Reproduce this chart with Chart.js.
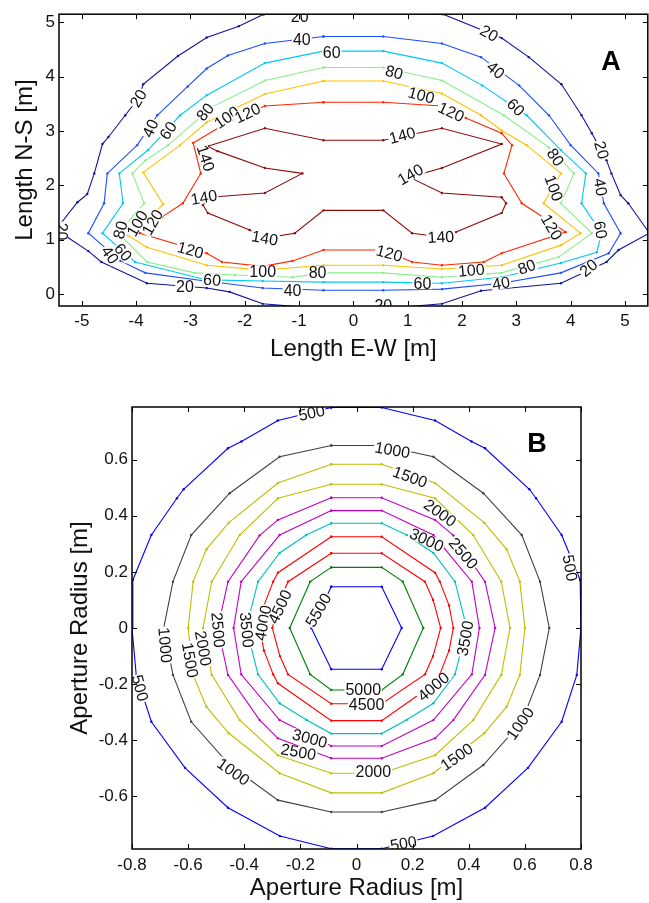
<!DOCTYPE html>
<html>
<head>
<meta charset="utf-8">
<script src="https://cdn.jsdelivr.net/npm/chart.js@4.4.1/dist/chart.umd.min.js"></script>
<style>
  html, body { margin: 0; padding: 0; background: #fff; }
  #wrap { position: relative; width: 649px; height: 903px; }
  #chartA { position: absolute; left: 0; top: 0; }
  #chartB { position: absolute; left: 0; top: 370px; }
</style>
</head>
<body>
<div id="wrap">
  <canvas id="chartA" width="649" height="370"></canvas>
  <canvas id="chartB" width="649" height="533"></canvas>
</div>
<script>
// ---------- Panel A : field contours (E-W vs N-S, metres) ----------
const levelsA = [20, 40, 60, 80, 100, 120, 140];
const xTicksA = [-5, -4, -3, -2, -1, 0, 1, 2, 3, 4, 5];
const yTicksA = [0, 1, 2, 3, 4, 5];

const lineA20 = [[-1.65,5.15],[-0.55,5.17],[0.55,5.17],[1.65,5.15],[2.73,4.71],[3.23,4.36],[3.83,3.86],[4.2,3.29],[4.39,2.96],[4.66,2.46],[4.75,2.22],[4.92,1.82],[5.06,1.67],[5.45,1.12],
  [4.88,0.81],[4.66,0.59],[3.82,0.2],[2.35,0.06],[1.63,-0.18],[0.55,-0.27],[-0.55,-0.27],[-1.67,-0.18],[-2.28,0.04],[-2.7,0.11],[-3.8,0.2],[-4.64,0.59],[-4.88,0.79],[-5.27,1.05],[-5.45,1.22],
  [-5.08,1.69],[-4.9,1.84],[-4.77,2.22],[-4.62,2.76],[-4.51,2.89],[-4.2,3.29],[-3.96,3.6],[-3.87,3.86],[-3.23,4.38],[-2.7,4.72],[-2.11,4.93]];
const lineA40 = [[-0.55,4.74],[0.55,4.74],[1.63,4.61],[2.35,4.36],[3.05,3.84],[3.6,3.29],[4.0,2.74],[4.51,2.22],[4.61,1.67],[4.92,1.12],[4.7,0.75],[3.82,0.39],[2.72,0.2],[1.63,0.09],[0.55,0.07],
  [-0.55,0.07],[-1.67,0.11],[-2.73,0.24],[-3.83,0.39],[-4.29,0.61],[-4.88,1.12],[-4.59,1.67],[-4.53,2.22],[-3.98,2.74],[-3.61,3.29],[-3.05,3.82],[-2.7,4.15],[-2.31,4.39],[-1.63,4.61]];
const lineA60 = [[-0.55,4.47],[0.55,4.47],[1.63,4.25],[2.37,3.84],[3.19,3.29],[3.82,2.65],[4.28,2.22],[4.2,1.67],[4.57,1.12],[4.48,0.77],[3.82,0.57],[2.72,0.31],[1.63,0.2],[0.55,0.22],
  [-0.55,0.22],[-1.67,0.24],[-2.7,0.26],[-4.02,0.59],[-4.62,1.12],[-4.24,1.67],[-4.31,2.22],[-3.78,2.65],[-3.19,3.29],[-2.7,3.66],[-1.63,4.25]];
const lineA80 = [[-0.55,4.17],[0.55,4.17],[1.63,3.93],[2.77,3.29],[3.6,2.7],[4.06,2.22],[3.82,1.67],[4.39,1.12],[3.78,0.68],[2.72,0.39],[1.63,0.31],[0.55,0.39],[-0.55,0.39],[-1.12,0.31],
  [-2.18,0.35],[-2.92,0.39],[-3.8,0.59],[-4.33,1.12],[-3.85,1.67],[-4.07,2.22],[-3.83,2.46],[-3.41,2.74],[-2.61,3.44],[-1.63,3.93]];
const lineA100 = [[-0.55,3.92],[0.55,3.92],[1.63,3.69],[2.35,3.29],[2.73,3.01],[3.19,2.74],[3.82,2.22],[3.5,1.67],[4.18,1.12],[3.82,0.9],[2.73,0.53],[1.63,0.46],[0.55,0.53],[-0.55,0.53],
  [-1.67,0.44],[-2.7,0.53],[-3.8,0.86],[-4.15,1.08],[-3.5,1.65],[-3.87,2.24],[-3.19,2.74],[-2.7,3.16],[-1.63,3.68]];
const lineA120 = [[-0.55,3.53],[0.55,3.53],[1.63,3.46],[2.07,3.24],[2.73,2.96],[2.92,2.74],[2.77,2.22],[3.1,1.67],[3.91,1.14],[2.73,0.75],[2.4,0.59],[1.63,0.53],[1.08,0.59],[0.55,0.81],
  [-0.55,0.81],[-1.12,0.61],[-1.67,0.51],[-2.42,0.59],[-2.7,0.75],[-3.93,1.12],[-3.52,1.42],[-3.14,1.67],[-2.81,2.22],[-2.95,2.78],[-2.31,3.16],[-1.63,3.46]];
const lineA140 = [[-2.68,2.72],[-1.63,3.05],[-0.55,2.83],[0.55,2.83],[1.63,3.05],[2.73,2.76],[1.63,2.32],[1.03,2.15],[1.63,1.86],[2.73,1.78],[2.81,1.67],[2.73,1.49],[1.89,1.14],[1.61,1.05],
  [1.08,1.12],[0.55,1.54],[-0.55,1.54],[-1.08,1.12],[-1.63,1.03],[-1.91,1.18],[-2.68,1.49],[-2.77,1.64],[-2.64,1.78],[-1.63,1.86],[-0.94,2.22],[-1.63,2.32],[-2.5,2.63]];

// label spots on each level: [x, y, angle]
const labA20 = [[-3.96,3.6,-60],[2.5,4.8,30],[4.57,2.65,75],[4.33,0.48,-40],[-3.1,0.13,0],[-0.99,5.1,0],[0.55,-0.22,0],[-5.37,1.15,90]];
const labA40 = [[-0.95,4.69,0],[-3.74,3.05,-65],[2.62,4.12,40],[4.55,1.97,80],[2.72,0.2,-10],[-1.12,0.07,0],[-4.48,0.72,55]];
const labA60 = [[-0.4,4.45,0],[-3.41,3.01,-55],[2.99,3.44,45],[4.55,1.18,80],[1.27,0.2,0],[-2.6,0.26,5],[-4.24,0.77,50]];
const labA80 = [[-2.73,3.35,-50],[0.75,4.08,15],[3.72,2.52,55],[3.19,0.5,-20],[-0.66,0.39,0],[-4.29,1.18,-75]];
const labA100 = [[-2.33,3.25,-35],[1.25,3.66,15],[3.69,1.95,70],[2.17,0.44,-5],[-1.67,0.42,0],[-3.98,1.3,-60]];
const labA120 = [[-1.95,3.33,-25],[1.8,3.35,25],[3.65,1.23,60],[0.66,0.75,15],[-3.0,0.81,15],[-3.7,1.32,-60]];
const labA140 = [[-2.72,2.5,72],[0.9,2.92,-15],[1.05,2.2,-30],[-2.75,1.78,-10],[-1.63,1.03,10],[1.61,1.05,-3]];

// ---------- Panel B : aperture contours (metres) ----------
const levelsB = [500, 1000, 1500, 2000, 2500, 3000, 3500, 4000, 4500, 5000, 5500];
const xTicksB = [-0.8, -0.6, -0.4, -0.2, 0, 0.2, 0.4, 0.6, 0.8];
const yTicksB = [-0.6, -0.4, -0.2, 0, 0.2, 0.4, 0.6];

const lineB500 = [[-0.09,0.785],[0.09,0.785],[0.28,0.739],[0.41,0.664],[0.458,0.64],[0.616,0.494],[0.64,0.462],[0.731,0.331],[0.797,0.171],[0.8,0],[0.785,-0.167],[0.731,-0.334],[0.611,-0.498],
  [0.458,-0.64],[0.273,-0.741],[0.09,-0.786],[-0.09,-0.786],[-0.273,-0.741],[-0.458,-0.64],[-0.611,-0.498],[-0.731,-0.334],[-0.785,-0.167],[-0.8,0],[-0.797,0.171],[-0.731,0.331],
  [-0.64,0.462],[-0.616,0.494],[-0.458,0.64],[-0.41,0.664],[-0.28,0.739]];
const lineB1000 = [[-0.09,0.65],[0.09,0.65],[0.274,0.61],[0.452,0.48],[0.589,0.331],[0.654,0.165],[0.687,0],[0.654,-0.167],[0.589,-0.334],[0.452,-0.488],[0.28,-0.613],[0.09,-0.655],
  [-0.09,-0.655],[-0.28,-0.613],[-0.452,-0.488],[-0.589,-0.334],[-0.654,-0.167],[-0.687,0],[-0.654,0.165],[-0.589,0.331],[-0.452,0.48],[-0.274,0.61]];
const lineB1500 = [[-0.09,0.583],[0.09,0.583],[0.28,0.516],[0.455,0.375],[0.535,0.28],[0.582,0.165],[0.6,0],[0.582,-0.167],[0.535,-0.28],[0.455,-0.375],[0.274,-0.517],[0.09,-0.587],
  [-0.09,-0.587],[-0.274,-0.517],[-0.455,-0.375],[-0.535,-0.28],[-0.582,-0.167],[-0.6,0],[-0.582,0.165],[-0.535,0.28],[-0.455,0.375],[-0.28,0.516]];
const lineB2000 = [[-0.09,0.512],[0.09,0.512],[0.28,0.462],[0.416,0.331],[0.516,0.165],[0.547,0],[0.516,-0.167],[0.416,-0.328],[0.28,-0.453],[0.09,-0.517],
  [-0.09,-0.517],[-0.28,-0.453],[-0.416,-0.328],[-0.516,-0.167],[-0.547,0],[-0.516,0.165],[-0.416,0.331],[-0.28,0.462]];
const lineB2500 = [[-0.09,0.464],[0.09,0.464],[0.28,0.385],[0.345,0.33],[0.458,0.165],[0.494,0],[0.458,-0.167],[0.345,-0.328],[0.28,-0.393],[0.09,-0.464],
  [-0.09,-0.464],[-0.28,-0.393],[-0.345,-0.328],[-0.458,-0.167],[-0.494,0],[-0.458,0.165],[-0.345,0.33],[-0.28,0.385]];
const lineB3000 = [[-0.09,0.418],[0.09,0.418],[0.274,0.331],[0.411,0.165],[0.438,0],[0.411,-0.165],[0.274,-0.328],[0.09,-0.42],
  [-0.09,-0.42],[-0.274,-0.328],[-0.411,-0.165],[-0.438,0],[-0.411,0.165],[-0.274,0.331]];
const lineB3500 = [[-0.09,0.373],[0.09,0.373],[0.179,0.331],[0.274,0.267],[0.351,0.165],[0.393,0],[0.351,-0.165],[0.274,-0.268],[0.179,-0.327],[0.09,-0.376],
  [-0.09,-0.376],[-0.179,-0.327],[-0.274,-0.268],[-0.351,-0.165],[-0.393,0],[-0.351,0.165],[-0.274,0.267],[-0.179,0.331]];
const lineB4000 = [[-0.09,0.325],[0.09,0.325],[0.28,0.197],[0.297,0.165],[0.33,0.08],[0.345,0],[0.33,-0.08],[0.297,-0.165],[0.28,-0.197],[0.09,-0.33],
  [-0.09,-0.33],[-0.28,-0.197],[-0.297,-0.165],[-0.33,-0.08],[-0.345,0],[-0.33,0.08],[-0.297,0.165],[-0.28,0.197]];
const lineB4500 = [[-0.09,0.266],[0.09,0.266],[0.244,0.165],[0.273,0.1],[0.3,0],[0.273,-0.1],[0.244,-0.165],[0.09,-0.27],
  [-0.09,-0.27],[-0.244,-0.165],[-0.273,-0.1],[-0.3,0],[-0.273,0.1],[-0.244,0.165]];
const lineB5000 = [[-0.09,0.216],[0.09,0.216],[0.165,0.165],[0.238,0],[0.165,-0.165],[0.09,-0.221],[-0.09,-0.221],[-0.165,-0.165],[-0.238,0],[-0.165,0.165]];
const lineB5500 = [[-0.09,0.147],[0.09,0.147],[0.161,0],[0.09,-0.147],[-0.09,-0.147],[-0.161,0]];

const labB500 = [[-0.16,0.766,-12],[0.761,0.214,80],[-0.771,-0.214,75],[0.167,-0.767,-10]];
const labB1000 = [[0.128,0.634,10],[-0.682,-0.061,85],[-0.439,-0.512,35],[0.583,-0.34,-55]];
const labB1500 = [[0.191,0.538,20],[-0.593,-0.114,80],[0.357,-0.459,-35]];
const labB2000 = [[0.298,0.41,35],[-0.546,-0.072,80],[0.06,-0.512,0]];
const labB2500 = [[0.381,0.266,50],[-0.493,-0.007,85],[-0.207,-0.441,10]];
const labB3000 = [[0.25,0.314,25],[-0.166,-0.393,15]];
const labB3500 = [[-0.391,-0.007,85],[0.387,-0.037,-80]];
const labB4000 = [[-0.333,0.018,-80],[0.274,-0.209,-40]];
const labB4500 = [[-0.273,0.076,-65],[0.036,-0.274,0]];
const labB5000 = [[0.024,-0.221,0]];
const labB5500 = [[-0.136,0.064,-60]];

// ---------- helpers ----------
const FONT = '"Liberation Sans", Arial, sans-serif';
Chart.defaults.font.family = FONT;

function toPoints(line) {
  const pts = line.map(p => ({ x: p[0], y: p[1] }));
  pts.push({ x: line[0][0], y: line[0][1] }); // close the loop
  return pts;
}

function contourSets(levels, lines, colors) {
  return levels.map((lv, i) => ({
    label: String(lv),
    data: toPoints(lines[i]),
    showLine: true,
    borderColor: colors[i],
    backgroundColor: colors[i],
    borderWidth: 1.1,
    pointRadius: 1.2,
    pointBorderWidth: 0,
    pointHoverRadius: 0,
    tension: 0,
    fill: false
  }));
}

// inline labels with a white gap under them, clipped to the plot box
const contourLabels = {
  id: 'contourLabels',
  afterDatasetsDraw(chart, args, opts) {
    const { ctx, chartArea: a, scales: { x, y } } = chart;
    ctx.save();
    ctx.beginPath();
    ctx.rect(a.left, a.top, a.right - a.left, a.bottom - a.top);
    ctx.clip();
    ctx.font = '16px ' + FONT;
    ctx.textAlign = 'center';
    ctx.textBaseline = 'middle';
    opts.levels.forEach((lv, i) => {
      opts.spots[i].forEach(s => {
        const txt = String(lv);
        const w = ctx.measureText(txt).width;
        ctx.save();
        ctx.translate(x.getPixelForValue(s[0]), y.getPixelForValue(s[1]));
        ctx.rotate(s[2] * Math.PI / 180);
        ctx.fillStyle = '#fff';
        ctx.fillRect(-w / 2 - 1, -6, w + 2, 12);
        ctx.fillStyle = '#111';
        ctx.fillText(txt, 0, 1);
        ctx.restore();
      });
    });
    ctx.restore();
  }
};

// box around the plot, inward ticks on all four sides, panel letter
const frame = {
  id: 'frame',
  afterDraw(chart, args, opts) {
    const { ctx, chartArea: a, scales: { x, y } } = chart;
    ctx.save();
    ctx.strokeStyle = '#000';
    ctx.lineWidth = 1;
    x.ticks.forEach(t => {
      const px = Math.round(x.getPixelForValue(t.value)) + 0.5;
      ctx.beginPath();
      ctx.moveTo(px, a.bottom); ctx.lineTo(px, a.bottom - 5);
      ctx.moveTo(px, a.top); ctx.lineTo(px, a.top + 5);
      ctx.stroke();
    });
    y.ticks.forEach(t => {
      const py = Math.round(y.getPixelForValue(t.value)) + 0.5;
      ctx.beginPath();
      ctx.moveTo(a.left, py); ctx.lineTo(a.left + 5, py);
      ctx.moveTo(a.right, py); ctx.lineTo(a.right - 5, py);
      ctx.stroke();
    });
    ctx.lineWidth = 1.5;
    ctx.strokeRect(a.left, a.top, a.right - a.left, a.bottom - a.top);
    ctx.font = 'bold 27px ' + FONT;
    ctx.fillStyle = '#000';
    ctx.textAlign = 'center';
    ctx.textBaseline = 'middle';
    ctx.fillText(opts.letter, opts.lx, opts.ly);
    ctx.restore();
  }
};

function axis(min, max, ticks, fmt, title, titlePad, size, isX, tickPad) {
  return {
    type: 'linear',
    min: min,
    max: max,
    afterBuildTicks: s => { s.ticks = ticks.map(v => ({ value: v })); },
    afterFit: s => { if (isX) s.height = size; else s.width = size; },
    grid: { display: false, drawTicks: false },
    border: { display: false },
    ticks: { color: '#111', font: { size: 17 }, padding: tickPad, autoSkip: false, maxRotation: 0, callback: fmt },
    title: { display: true, text: title, color: '#111', font: { size: 24 }, padding: titlePad }
  };
}

function baseOptions(pad, xs, ys, labelOpts, frameOpts) {
  return {
    responsive: false,
    animation: false,
    devicePixelRatio: 1,
    events: [],
    layout: { padding: pad },
    plugins: { legend: { display: false }, tooltip: { enabled: false }, contourLabels: labelOpts, frame: frameOpts },
    scales: { x: xs, y: ys }
  };
}

// ---------- Panel A ----------
const colorsA = ['#14149a', '#1c4cff', '#00c8f4', '#86f086', '#ffc200', '#ff2600', '#8c0c0c'];
const linesA = [lineA20, lineA40, lineA60, lineA80, lineA100, lineA120, lineA140];
const spotsA = [labA20, labA40, labA60, labA80, labA100, labA120, labA140];

new Chart(document.getElementById('chartA'), {
  type: 'scatter',
  data: { datasets: contourSets(levelsA, linesA, colorsA) },
  options: baseOptions(
    { top: 14, right: 1, left: 0, bottom: 0 },
    axis(-5.42, 5.42, xTicksA, v => String(v), 'Length E-W [m]', { bottom: 6 }, 64, true, 5),
    axis(-0.22, 5.15, yTicksA, v => String(v), 'Length N-S [m]', { top: 11 }, 59, false, 4),
    { levels: levelsA, spots: spotsA },
    { letter: 'A', lx: 611, ly: 63 }
  ),
  plugins: [contourLabels, frame]
});

// ---------- Panel B ----------
const colorsB = ['#0000ff', '#404040', '#bfbf00', '#bfbf00', '#bf00bf', '#bf00bf', '#00bfbf', '#ff0000', '#ff0000', '#008000', '#0000ff'];
const linesB = [lineB500, lineB1000, lineB1500, lineB2000, lineB2500, lineB3000, lineB3500, lineB4000, lineB4500, lineB5000, lineB5500];
const spotsB = [labB500, labB1000, labB1500, labB2000, labB2500, labB3000, labB3500, labB4000, labB4500, labB5000, labB5500];

new Chart(document.getElementById('chartB'), {
  type: 'scatter',
  data: { datasets: contourSets(levelsB, linesB, colorsB) },
  options: baseOptions(
    { top: 37, right: 68, left: 0, bottom: 0 },
    axis(-0.8, 0.8, xTicksB, v => String(Math.round(v * 10) / 10), 'Aperture Radius [m]', { bottom: 0 }, 54, true, 6),
    axis(-0.787, 0.787, yTicksB, v => String(Math.round(v * 10) / 10), 'Aperture Radius [m]', { top: 66 }, 132, false, 4),
    { levels: levelsB, spots: spotsB },
    { letter: 'B', lx: 537, ly: 75 }
  ),
  plugins: [contourLabels, frame]
});
</script>
</body>
</html>
